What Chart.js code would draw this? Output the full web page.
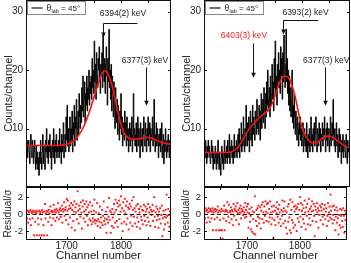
<!DOCTYPE html>
<html>
<head>
<meta charset="utf-8">
<script src="https://cdn.jsdelivr.net/npm/chart.js@4"></script>
<style>
  html, body { margin: 0; padding: 0; background: #fff; }
  #wrap { position: relative; width: 351px; height: 263px; }
  #wrap canvas { position: absolute; left: 0; top: 0; }
</style>
</head>
<body>
<div id="wrap">
  <canvas id="countsLeft" width="351" height="263"></canvas>
  <canvas id="residLeft" width="351" height="263"></canvas>
  <canvas id="countsRight" width="351" height="263"></canvas>
  <canvas id="residRight" width="351" height="263"></canvas>
</div>
<script>
// first channel of each spectrum
const leftFirstChannel = 1625;
const rightFirstChannel = 1619;

// counts per channel, left spectrum (1625 ... 1891)
const leftCounts = [
  7,6,8,5,7,8,6,4,7,9,6,5,8,7,4,6,8,5,3,7,
  4,6,3,5,2,6,4,8,5,3,6,9,4,7,5,3,8,6,10,5,
  7,4,8,6,9,5,7,3,6,8,5,10,7,4,8,6,9,5,7,6,
  8,5,10,6,7,4,9,6,8,11,5,7,9,6,12,8,14,7,10,6,
  9,12,7,10,8,13,6,11,9,14,7,12,10,15,8,11,13,9,16,12,
  10,14,11,17,13,19,12,15,18,11,16,14,19,13,17,15,20,14,18,16,
  19,15,22,17,20,16,25,18,21,15,23,19,17,22,20,24,18,16,21,19,
  23,17,26,20,18,22,16,21,24,19,14,22,18,27,17,20,15,21,13,19,
  16,12,18,14,10,17,13,11,15,9,14,12,8,13,10,16,9,12,7,11,
  10,8,13,9,11,7,12,8,10,6,9,11,7,10,8,12,6,9,16,8,
  10,7,9,11,6,8,12,7,10,9,5,11,8,7,10,6,9,12,8,7,
  11,9,6,10,8,12,7,9,11,6,10,8,9,12,7,10,15,8,6,9,
  11,7,10,8,5,9,7,10,6,8,11,5,7,9,4,8,6,10,7,5,
  8,6,9,7,5,8,7
];

// counts per channel, right spectrum (1619 ... 1889)
const rightCounts = [
  6,7,5,8,6,4,7,5,8,6,7,5,4,6,8,5,7,3,6,5,
  4,7,5,3,6,4,8,5,3,6,4,2,5,7,4,6,3,5,8,4,
  6,5,7,4,8,6,5,9,4,7,6,8,5,7,4,6,9,5,7,6,
  8,5,7,9,6,10,5,8,7,11,6,9,7,12,8,6,10,7,14,9,
  7,11,8,12,6,10,13,8,11,7,14,9,12,10,8,13,11,9,15,10,
  12,9,14,11,8,13,16,10,12,15,11,17,13,10,16,12,18,14,20,13,
  15,17,12,19,14,16,21,15,18,13,22,17,25,16,19,14,21,18,23,17,
  20,16,24,19,22,15,23,18,26,20,17,21,27,18,22,16,20,14,19,13,
  17,12,15,20,11,14,10,16,12,9,13,11,8,12,10,7,11,9,12,8,
  10,7,9,11,6,8,10,7,9,6,11,8,5,9,7,10,6,8,12,7,
  9,6,10,8,11,7,9,12,8,6,10,9,7,11,8,10,6,9,8,11,
  7,10,9,12,8,6,10,8,11,7,9,10,6,8,12,7,9,11,8,15,
  9,7,10,6,8,11,7,9,5,8,10,6,9,7,4,8,6,9,5,7,
  8,6,5,9,7,4,8,6,7,5,8
];

// fitted curves
const leftFitChannels = [1625,1680,1700,1710,1720,1730,1740,1750,1758,1765,1770,1776,1783,1790,1797,1805,1812,1820,1830,1840,1848,1856,1865,1875,1892];
const leftFitCounts   = [7.1,7.1,7.3,7.7,8.6,10.1,12.4,15.3,17.7,19.5,19.9,19.4,17.5,14.6,11.7,9.4,8.5,8.2,8.2,8.4,8.5,8.4,8.0,7.6,7.3];
const rightFitChannels = [1619,1660,1672,1682,1690,1698,1709,1722,1735,1745,1754,1762,1769,1776,1782,1788,1794,1800,1806,1812,1818,1826,1835,1845,1855,1865,1875,1889];
const rightFitCounts   = [5.9,5.9,6.1,6.8,8.0,9.3,10.7,11.9,12.9,14.2,16.6,18.5,19.0,18.6,17.3,15.3,12.6,10.3,8.9,8.0,7.6,7.6,8.1,8.7,8.6,8.0,7.3,6.6];

// residual / sigma per channel
const leftResiduals = [
  0.3,0.1,-0.5,0.4,-1.0,0.3,0.2,-0.6,0.5,-1.3,0.3,0.1,-0.5,0.4,0.3,-2.5,0.2,-0.9,0.4,0.1,
  -2.5,0.3,-0.5,-1.2,0.4,-2.5,0.1,0.3,-0.6,-2.5,0.5,0.2,-1.3,-2.5,0.3,1.2,-0.5,0.1,0.4,-2.5,
  0.3,-0.9,0.5,0.1,-0.4,0.9,0.3,-1.3,0.4,0.2,-0.5,1.1,0.3,0.5,-0.8,0.2,0.6,-0.4,0.4,1.3,
  0.2,-0.6,0.5,0.7,-0.3,0.4,1.0,-1.0,0.6,0.3,1.4,-0.2,0.5,0.8,-0.7,1.8,0.4,1.6,-1.2,0.6,
  1.0,-0.4,0.7,1.3,-1.6,0.5,1.1,-0.8,0.3,1.5,-1.9,0.8,0.2,1.2,-0.6,2.7,0.4,-1.1,1.0,0.6,
  -0.3,1.4,0.2,-1.7,0.9,1.6,-0.5,0.3,1.2,-0.9,0.5,1.5,-0.2,0.8,-1.3,1.1,0.2,-0.6,1.4,-0.8,
  0.3,-1.2,1.0,-0.5,-0.9,0.4,1.7,-0.7,-1.1,0.2,-0.8,1.3,-1.4,-0.6,0.1,-0.9,0.9,-1.6,-0.4,-1.0,
  0.5,-1.3,-0.2,1.5,-0.8,-0.5,-1.2,0.3,-2.2,-0.6,0.8,-1.0,-0.3,1.9,-0.7,0.4,-2.2,0.2,-1.4,0.6,
  -0.4,-1.6,1.2,0.2,-1.0,1.7,0.5,-0.8,1.3,-1.5,0.9,1.6,-0.6,1.1,0.3,2.1,-1.1,0.7,-2.0,1.4,
  0.4,-0.9,1.8,0.1,1.0,-1.2,1.5,-0.5,0.8,-1.8,0.6,1.2,-1.0,0.9,-0.2,1.6,-1.4,0.5,2.0,-0.3,
  0.7,-1.1,0.3,1.0,-1.5,-0.4,1.2,-0.9,0.6,0.2,-1.7,0.9,-0.3,-0.7,0.5,-1.2,0.4,1.1,-0.2,-0.8,
  0.9,0.3,-1.3,0.6,-0.4,1.2,-0.9,0.2,0.8,-1.4,0.5,-0.1,0.3,1.1,-0.8,0.4,2.0,-0.3,-1.5,0.2,
  0.9,-0.7,0.6,-0.2,-1.6,0.3,-0.6,0.7,-1.1,-0.1,1.0,-2.6,-0.5,0.4,-1.8,-0.3,-1.2,0.5,-0.4,2.3,
  -0.2,-1.0,0.6,-0.1,-1.5,0.3,-0.5
];
const rightResiduals = [
  0.6,0.3,-0.5,0.7,0.4,-1.0,0.5,0.2,-0.4,0.7,0.3,-0.9,0.6,0.4,-0.5,0.3,0.7,-1.9,0.2,0.5,
  -0.6,0.6,0.3,-1.9,0.5,-0.4,0.9,0.2,-1.9,0.4,-0.7,-1.9,0.3,0.6,-1.9,-2.9,0.4,-0.5,1.0,-1.9,
  0.3,0.5,-0.8,0.4,1.4,0.2,-0.3,1.1,-1.0,0.4,0.2,0.8,-0.6,0.5,0.3,-1.3,1.2,-0.2,0.6,0.4,
  0.9,-0.7,0.3,1.3,0.1,0.5,-1.2,0.7,0.2,1.0,-0.5,0.6,0.3,0.4,-0.1,0.8,0.2,-0.4,1.3,0.5,
  -0.3,0.9,0.2,1.2,-1.6,0.1,0.6,-0.9,-0.2,-1.8,0.8,-2.1,0.3,-0.6,-2.3,0.2,2.1,-2.4,-0.8,0.5,
  -1.4,0.7,-0.3,1.0,-1.1,-0.5,0.8,-1.7,0.4,1.1,-0.6,1.4,0.2,-1.0,0.9,-0.2,1.5,0.3,-0.8,1.2,
  0.1,1.3,-0.9,0.6,-0.4,1.5,0.2,-1.2,0.9,-0.5,0.3,-2.8,1.0,-0.7,0.4,-1.3,0.8,0.1,1.4,-0.3,
  0.6,-1.0,1.1,0.2,-0.6,-1.4,0.5,-0.2,1.6,0.3,-1.1,0.7,1.5,-0.8,0.4,-1.6,0.2,-2.3,0.9,-0.9,
  1.2,-0.4,-1.9,1.7,-2.2,0.5,-0.7,1.4,-1.0,-1.6,0.9,0.3,-1.3,1.0,0.6,-2.0,0.8,-0.5,1.2,-0.9,
  0.5,2.0,-0.3,1.3,-1.5,0.4,1.1,-0.6,0.7,-1.1,1.6,0.2,-1.8,0.8,-0.2,1.2,-1.2,0.3,1.8,-0.5,
  0.6,-1.3,0.9,0.3,1.5,-0.8,0.4,1.2,-0.2,-2.6,0.9,0.5,-0.9,1.3,0.2,0.7,-1.6,0.4,-0.1,1.0,
  -0.7,0.8,0.4,1.2,-0.3,-1.2,0.6,-0.1,1.1,-0.6,0.3,0.7,-1.4,-0.2,1.3,-0.8,0.2,0.9,-0.4,2.3,
  0.4,-0.6,0.9,-1.1,-0.1,1.0,-0.7,0.5,-1.9,-0.3,0.8,-1.0,0.4,-0.5,-2.4,-0.1,-1.3,0.6,-1.6,-0.2,
  0.5,-0.8,-1.5,0.7,-0.2,-2.2,0.4,-0.7,0.1,-1.1,0.3
];

// tick values
const channelTickLabels = [1700, 1800];
const channelTickMarks = [1650, 1700, 1750, 1800, 1850];
const countTicks = [10, 20, 30];
const residualTicks = [-2, 0, 2];

// peak labels
const leftNotes = [
  { text: '6394(2) keV', channel: 1767, from: 28.0, to: 25.6, barTo: 1830, textChannel: 1761, textCount: 29.6, align: 'left', color: '#222' },
  { text: '6377(3) keV', channel: 1846, from: 20.6, to: 13.9, textChannel: 1844, textCount: 21.6, align: 'center', color: '#222' }
];
const rightNotes = [
  { text: '6393(2) keV', channel: 1765, from: 28.6, to: 26.1, barTo: 1830, textChannel: 1764, textCount: 29.8, align: 'left', color: '#222' },
  { text: '6403(3) keV', channel: 1709, from: 24.7, to: 18.7, textChannel: 1693, textCount: 25.9, align: 'center', color: '#ff1a1a' },
  { text: '6377(3) keV', channel: 1843, from: 20.6, to: 13.9, textChannel: 1845, textCount: 21.6, align: 'center', color: '#222' }
];

const FONT = '"Liberation Sans", Arial, Helvetica, sans-serif';
Chart.defaults.font.family = FONT;
Chart.defaults.color = '#222';

function channelList(first, n) {
  return Array.from({ length: n }, (_, i) => first + i);
}

const framePlugin = {
  id: 'frame',
  afterDatasetsDraw(chart, args, opts) {
    const { ctx, chartArea: a, scales } = chart;
    ctx.save();
    ctx.strokeStyle = '#111';
    ctx.lineWidth = 1;
    if (opts.zeroLine) {
      const y0 = Math.round(scales.y.getPixelForValue(0)) + 0.5;
      ctx.setLineDash([4, 2.5]);
      ctx.beginPath();
      ctx.moveTo(a.left, y0);
      ctx.lineTo(a.right, y0);
      ctx.stroke();
      ctx.setLineDash([]);
    }
    ctx.strokeRect(a.left + 0.5, a.top + 0.5, a.right - a.left - 1, a.bottom - a.top - 1);
    ctx.beginPath();
    opts.xTicks.forEach(v => {
      const x = Math.round(scales.x.getPixelForValue(v)) + 0.5;
      ctx.moveTo(x, a.bottom); ctx.lineTo(x, a.bottom - 3);
      ctx.moveTo(x, a.top); ctx.lineTo(x, a.top + 3);
    });
    opts.yTicks.forEach(v => {
      const y = Math.round(scales.y.getPixelForValue(v)) + 0.5;
      ctx.moveTo(a.left, y); ctx.lineTo(a.left + 3, y);
      ctx.moveTo(a.right, y); ctx.lineTo(a.right - 3, y);
    });
    ctx.stroke();
    ctx.restore();
  }
};

const notesPlugin = {
  id: 'notes',
  afterDatasetsDraw(chart, args, opts) {
    if (!opts.items) return;
    const { ctx, scales: { x, y }, chartArea: a } = chart;
    ctx.save();
    opts.items.forEach(n => {
      const ax = Math.round(x.getPixelForValue(n.channel)) + 0.5;
      const y0 = Math.round(y.getPixelForValue(n.from)) + 0.5;
      const y1 = y.getPixelForValue(n.to);
      ctx.strokeStyle = '#111';
      ctx.fillStyle = '#111';
      ctx.lineWidth = 1;
      ctx.beginPath();
      if (n.barTo) {
        ctx.moveTo(x.getPixelForValue(n.barTo), y0);
        ctx.lineTo(ax, y0);
      } else {
        ctx.moveTo(ax, y0);
      }
      ctx.lineTo(ax, y1 - 4);
      ctx.stroke();
      ctx.beginPath();
      ctx.moveTo(ax - 2.3, y1 - 5);
      ctx.lineTo(ax + 2.3, y1 - 5);
      ctx.lineTo(ax, y1);
      ctx.closePath();
      ctx.fill();
      ctx.fillStyle = n.color;
      ctx.font = '8.5px ' + FONT;
      ctx.textAlign = n.align;
      ctx.textBaseline = 'middle';
      ctx.fillText(n.text, x.getPixelForValue(n.textChannel), y.getPixelForValue(n.textCount));
    });

    // legend box
    const lx = a.left + 1.5, ly = a.top + 1.5;
    ctx.fillStyle = '#fff';
    ctx.fillRect(lx, ly, 58, 13);
    ctx.strokeStyle = '#888';
    ctx.lineWidth = 1;
    ctx.strokeRect(lx, ly, 58, 13);
    ctx.strokeStyle = '#222';
    ctx.lineWidth = 1.3;
    ctx.beginPath();
    ctx.moveTo(lx + 4, ly + 6.5);
    ctx.lineTo(lx + 15, ly + 6.5);
    ctx.stroke();
    ctx.fillStyle = '#222';
    ctx.textAlign = 'left';
    ctx.textBaseline = 'alphabetic';
    let tx = lx + 19;
    ctx.font = '8.5px ' + FONT;
    ctx.fillText('θ', tx, ly + 9.5);
    tx += ctx.measureText('θ').width + 0.3;
    ctx.font = '5.5px ' + FONT;
    ctx.fillText('lab', tx, ly + 11.5);
    tx += ctx.measureText('lab').width;
    ctx.font = '8px ' + FONT;
    ctx.fillText(' = 45°', tx, ly + 9.5);
    ctx.restore();
  }
};

function yScale(min, max, ticks, title, titleSize, tickSize) {
  return {
    min: min, max: max,
    grid: { display: false, drawTicks: false },
    border: { display: false },
    afterBuildTicks: s => { s.ticks = ticks.map(v => ({ value: v })); },
    afterFit: s => { s.width = 26; s.paddingTop = 0; s.paddingBottom = 0; },
    ticks: { font: { size: tickSize }, padding: 3, color: '#222', callback: v => String(v) },
    title: { display: true, text: title, color: '#222', font: { size: titleSize }, padding: { top: 2, bottom: 0 } }
  };
}

function countsChart(id, first, counts, fitCh, fitCounts, xMin, xMax, padLeft, padRight, notes) {
  const channels = channelList(first, counts.length);
  new Chart(document.getElementById(id), {
    type: 'line',
    data: {
      datasets: [
        {
          data: fitCh.map((c, i) => ({ x: c, y: fitCounts[i] })),
          borderColor: '#ff1010', borderWidth: 1.6, pointRadius: 0,
          cubicInterpolationMode: 'monotone', order: 0
        },
        {
          data: channels.map((c, i) => ({ x: c, y: counts[i] })),
          borderColor: '#000', borderWidth: 1, pointRadius: 0,
          stepped: 'middle', order: 1
        }
      ]
    },
    options: {
      responsive: false, animation: false, events: [], devicePixelRatio: 1,
      layout: { padding: { left: padLeft, right: padRight, top: 0, bottom: 76 } },
      plugins: {
        legend: { display: false }, tooltip: { enabled: false },
        frame: { xTicks: channelTickMarks, yTicks: countTicks },
        notes: { items: notes }
      },
      scales: {
        x: { type: 'linear', min: xMin, max: xMax, display: false },
        y: yScale(0, 32, countTicks, 'Counts/channel', 11, 10)
      }
    },
    plugins: [framePlugin, notesPlugin]
  });
}

function residualChart(id, first, resid, xMin, xMax, padLeft, padRight) {
  const channels = channelList(first, resid.length);
  new Chart(document.getElementById(id), {
    type: 'scatter',
    data: {
      datasets: [{
        data: channels.map((c, i) => ({ x: c, y: resid[i] })),
        pointStyle: 'rect', pointRadius: 1.35, borderWidth: 0,
        backgroundColor: '#ff1a1a'
      }]
    },
    options: {
      responsive: false, animation: false, events: [], devicePixelRatio: 1,
      layout: { padding: { left: padLeft, right: padRight, top: 187, bottom: 0 } },
      plugins: {
        legend: { display: false }, tooltip: { enabled: false },
        frame: { xTicks: channelTickMarks, yTicks: residualTicks, zeroLine: true }
      },
      scales: {
        x: {
          type: 'linear', min: xMin, max: xMax,
          grid: { display: false, drawTicks: false },
          border: { display: false },
          afterBuildTicks: s => { s.ticks = channelTickLabels.map(v => ({ value: v })); },
          afterFit: s => { s.height = 23; s.paddingLeft = 0; s.paddingRight = 0; },
          ticks: { font: { size: 10 }, padding: 0, color: '#222', callback: v => String(v) },
          title: { display: true, text: 'Channel number', color: '#222', font: { size: 11.5 }, padding: { top: 0, bottom: 0 } }
        },
        y: yScale(-3.05, 3.2, residualTicks, 'Residual/σ', 10, 9.5)
      }
    },
    plugins: [framePlugin]
  });
}

countsChart('countsLeft', leftFirstChannel, leftCounts, leftFitChannels, leftFitCounts, 1625, 1892, 0, 180, leftNotes);
residualChart('residLeft', leftFirstChannel, leftResiduals, 1625, 1892, 0, 180);
countsChart('countsRight', rightFirstChannel, rightCounts, rightFitChannels, rightFitCounts, 1619, 1889, 178, 1, rightNotes);
residualChart('residRight', rightFirstChannel, rightResiduals, 1619, 1889, 178, 1);
</script>
</body>
</html>
